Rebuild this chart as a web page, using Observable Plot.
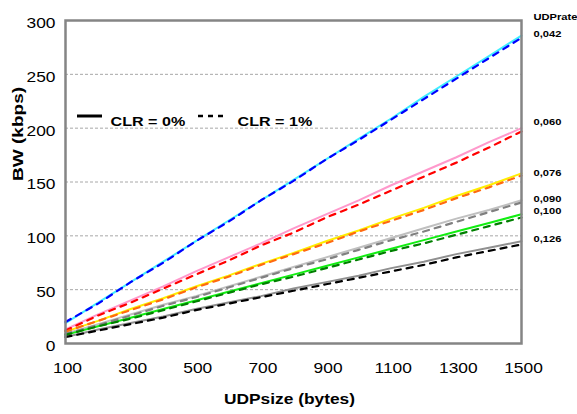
<!DOCTYPE html>
<html>
<head>
<meta charset="utf-8">
<script src="https://cdn.jsdelivr.net/npm/d3@7"></script>
<script src="https://cdn.jsdelivr.net/npm/@observablehq/plot@0.6"></script>
<style>
  html, body { margin: 0; padding: 0; background: #fff; }
  #chart { width: 577px; height: 414px; }
</style>
</head>
<body>
<div id="chart"></div>
<script>
// ---- data ----
const sizes = [100, 200, 300, 400, 500, 600, 700, 800, 900, 1000, 1100, 1200, 1300, 1400, 1500];
const rates = ["0,042", "0,060", "0,076", "0,090", "0,100", "0,126"];

// CLR = 0% (solid)
const clr0_042 = [19, 38, 57, 76, 95, 114, 133, 152, 171, 190, 209, 229, 248, 267, 286];
const clr0_060 = [13, 27, 40, 53, 67, 80, 93, 107, 120, 133, 147, 160, 173, 187, 200];
const clr0_076 = [11, 21, 32, 42, 53, 63, 74, 84, 95, 105, 116, 126, 137, 147, 158];
const clr0_090 = [9, 18, 27, 36, 44, 53, 62, 71, 80, 89, 98, 107, 116, 124, 133];
const clr0_100 = [8, 16, 24, 32, 40, 48, 56, 64, 72, 80, 88, 96, 104, 112, 120];
const clr0_126 = [6, 13, 19, 25, 32, 38, 44, 51, 57, 63, 70, 76, 83, 89, 95];

// CLR = 1% (dashed)
const clr1_042 = [20, 37, 57, 75, 95, 113, 133, 151, 171, 189, 208, 227, 246, 265, 284];
const clr1_060 = [12, 26, 38, 51, 64, 77, 91, 103, 117, 129, 142, 155, 168, 182, 197];
const clr1_076 = [11, 21, 31, 41, 52, 62, 73, 83, 93, 104, 114, 124, 135, 145, 156];
const clr1_090 = [9, 17, 26, 35, 43, 52, 61, 70, 78, 87, 96, 104, 113, 122, 131];
const clr1_100 = [8, 16, 23, 31, 39, 47, 55, 62, 70, 78, 86, 93, 101, 109, 117];
const clr1_126 = [6, 12, 18, 24, 31, 37, 43, 49, 55, 61, 67, 73, 80, 86, 92];

const xTicks = [100, 300, 500, 700, 900, 1100, 1300, 1500];
const yTicks = [0, 50, 100, 150, 200, 250, 300];
const gridTicks = [50, 100, 150, 200, 250];

// ---- styles ----
const solidColors = ["#40eeff", "#ff99cc", "#ffee00", "#c0c0c0", "#11ee11", "#909090"];
const dashColors = ["#0000ff", "#ff0000", "#ff6a10", "#808080", "#008000", "#000000"];
const labelNudge = [1, 6, 0, 1.5, 3, 2]; // small vertical nudges of the right-hand labels

const solidSeries = [clr0_042, clr0_060, clr0_076, clr0_090, clr0_100, clr0_126];
const dashSeries = [clr1_042, clr1_060, clr1_076, clr1_090, clr1_100, clr1_126];

const toRows = (series, colors) => series.flatMap((vals, k) =>
  vals.map((v, i) => ({size: sizes[i], bw: v, rate: rates[k], color: colors[k]})));
const solidRows = toRows(solidSeries, solidColors);
const dashRows = toRows(dashSeries, dashColors);
const labelRows = rates.map((r, k) => ({rate: r, size: sizes[sizes.length - 1],
  bw: solidSeries[k][solidSeries[k].length - 1] + labelNudge[k]}));

const legendMark = (index, scales, values, dims) => {
  const g = d3.create("svg:g");
  const x0 = dims.marginLeft;
  g.append("line").attr("x1", x0 + 12).attr("x2", x0 + 37).attr("y1", 116).attr("y2", 116)
    .attr("stroke", "#000").attr("stroke-width", 3);
  g.append("line").attr("x1", x0 + 133).attr("x2", x0 + 158).attr("y1", 116).attr("y2", 116)
    .attr("stroke", "#000").attr("stroke-width", 2.5).attr("stroke-dasharray", "5,5");
  return g.node();
};

const chart = Plot.plot({
  width: 577,
  height: 414,
  marginLeft: 65,
  marginRight: 56,
  marginTop: 20,
  marginBottom: 71,
  style: {fontFamily: "'Liberation Sans', Arial, sans-serif", fontSize: "14px", color: "#000", background: "#fff"},
  x: {domain: [100, 1500]},
  y: {domain: [0, 300]},
  marks: [
    Plot.gridY(gridTicks, {stroke: "#a8a8a8", strokeOpacity: 1, strokeDasharray: "3,2"}),
    Plot.axisY(yTicks, {tickSize: 0, tickPadding: 10, dy: 3, label: null, fontSize: 14, tickFormat: d => String(d)}),
    Plot.axisX(xTicks, {tickSize: 0, tickPadding: 20, dx: 2, label: null, fontSize: 14, tickFormat: d => String(d)}),
    Plot.line(solidRows, {x: "size", y: "bw", z: "rate", stroke: "color", strokeWidth: 2}),
    Plot.line(dashRows, {x: "size", y: "bw", z: "rate", stroke: "color", strokeWidth: 2.2, strokeDasharray: "6,6"}),
    Plot.frame({stroke: "#858585", strokeWidth: 2.5}),
    Plot.text(labelRows, {x: "size", y: "bw", text: "rate", dx: 12, textAnchor: "start",
      fontWeight: "bold", fontSize: 9, fill: "#000"}),
    Plot.text(["UDPrate"], {frameAnchor: "top-right", dx: 12, dy: -7, textAnchor: "start",
      fontWeight: "bold", fontSize: 9, fill: "#000"}),
    Plot.text(["UDPsize (bytes)"], {frameAnchor: "bottom", dx: -4, dy: 60,
      fontWeight: "bold", fontSize: 14, fill: "#000"}),
    Plot.text(["BW (kbps)"], {frameAnchor: "left", dx: -47, dy: -1, rotate: -90,
      fontWeight: "bold", fontSize: 15, fill: "#000"}),
    Plot.text(["CLR = 0%"], {frameAnchor: "top-left", dx: 45, dy: 96, textAnchor: "start",
      fontWeight: "bold", fontSize: 13, fill: "#000"}),
    Plot.text(["CLR = 1%"], {frameAnchor: "top-left", dx: 172, dy: 96, textAnchor: "start",
      fontWeight: "bold", fontSize: 13, fill: "#000"}),
    legendMark
  ]
});

// the reference's lettering is drawn wider than normal: stretch each text along its baseline
chart.querySelectorAll("text").forEach(t => {
  const tr = t.getAttribute("transform") || "";
  const x = +t.getAttribute("x") || 0, y = +t.getAttribute("y") || 0;
  const k = /rotate/.test(tr) ? 1.27 : 1.24;
  t.setAttribute("transform", `${tr} translate(${x},${y}) scale(${k},1) translate(${-x},${-y})`);
});

document.getElementById("chart").appendChild(chart);
</script>
</body>
</html>
